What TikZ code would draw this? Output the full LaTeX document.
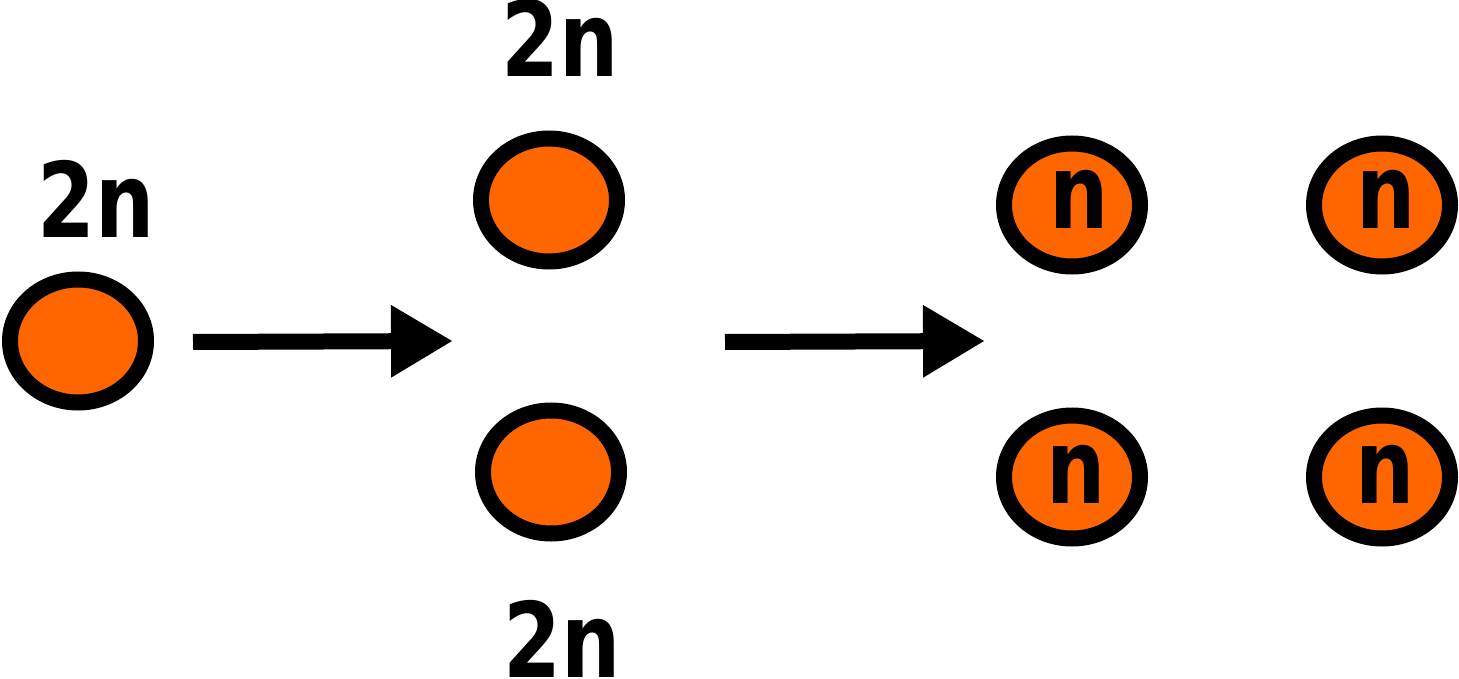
\documentclass[tikz,border=0pt]{standalone}
\usepackage{fontspec}
\setmainfont{DejaVu Sans}[FakeStretch=0.8]
\usetikzlibrary{shapes.geometric,arrows.meta}
\definecolor{cellorange}{HTML}{FF6600}

\tikzset{
  cell/.style={ellipse,draw=black,fill=cellorange,line width=16pt,minimum width=136pt,minimum height=123pt,inner sep=0pt},
  count/.style={anchor=base,inner sep=0pt,font=\fontsize{104}{104}\selectfont\bfseries},
  split/.style={line width=16pt,-{Triangle[length=62pt,width=68pt]}}
}

\begin{document}
\begin{tikzpicture}[x=1pt,y=-1pt]
  \useasboundingbox (0,0) rectangle (1459,679);

  %starting cell
  \node[cell] (c0) at (78,341) {};
  \node[count] (l0) at (96,237) {2n};

  %first division
  \coordinate (a1s) at (193,342);
  \coordinate (a1e) at (453,341);
  \draw[split] (a1s) -- (a1e);

  \node[cell] (c1) at (549,200) {};
  \node[cell] (c2) at (551,472) {};
  \node[count] (l1) at (560,77) {2n};
  \node[count] (l2) at (562,677) {2n};

  %second division
  \coordinate (a2s) at (725,342);
  \coordinate (a2e) at (985,341);
  \draw[split] (a2s) -- (a2e);

  \node[cell] (c3) at (1072,205) {};
  \node[cell] (c4) at (1382,205) {};
  \node[cell] (c5) at (1072,477) {};
  \node[cell] (c6) at (1382,477) {};
  \node[count] (l3) at (1079,229) {n};
  \node[count] (l4) at (1386,229) {n};
  \node[count] (l5) at (1076,503) {n};
  \node[count] (l6) at (1385,503) {n};
\end{tikzpicture}
\end{document}
